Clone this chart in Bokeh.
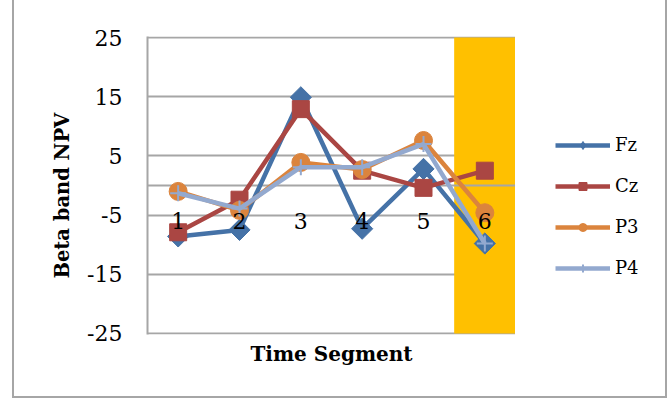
import numpy as np
from bokeh.plotting import figure
from bokeh.layouts import row
from bokeh.models import (FixedTicker, Legend, LegendItem, InlineStyleSheet,
                          ColumnDataSource, CustomJSTickFormatter)
from bokeh.core.properties import value
from bokeh.embed import file_html
from bokeh.resources import INLINE

# Beta band NPV per time segment for four electrodes
segments = [1, 2, 3, 4, 5, 6]
segment_labels = ["1", "2", "3", "4", "5", "6"]
fz = [-8.6, -7.5, 14.9, -7.3, 2.8, -9.8]
cz = [-7.9, -2.4, 12.9, 2.5, -0.4, 2.5]
p3 = [-1.0, -4.2, 3.9, 2.7, 7.6, -4.6]
p4 = [-1.3, -3.9, 3.1, 3.1, 7.0, -9.8]
y_ticks = [-25, -15, -5, 5, 15, 25]
highlight_segment = 6

FONT = "DejaVu Serif"
GRID = "#a6a6a6"

# a little headroom so the outermost grid lines are not clipped
pad = 0.17
p = figure(width=515, height=399, output_backend="svg", toolbar_location=None,
           title=None,
           x_range=(0.5, 6.5), y_range=(y_ticks[0] - pad, y_ticks[-1] + pad),
           min_border_left=147, min_border_right=0,
           min_border_top=36, min_border_bottom=65)
p.outline_line_color = None
p.background_fill_color = "white"
p.border_fill_color = "white"

# y axis
p.yaxis.ticker = FixedTicker(ticks=y_ticks)
p.yaxis.formatter = CustomJSTickFormatter(code="return String(tick);")
p.yaxis.major_tick_out = 0
p.yaxis.major_tick_in = 0
p.yaxis.minor_tick_line_color = None
p.yaxis.axis_line_color = GRID
p.yaxis.axis_line_width = 2
p.yaxis.major_label_standoff = 25
p.yaxis.major_label_text_font = FONT
p.yaxis.major_label_text_font_size = "22px"
p.yaxis.major_label_text_color = "black"
# trailing no-break spaces nudge the rotated title a bit lower
p.yaxis.axis_label = "Beta band NPV\u00a0\u00a0\u00a0"
p.yaxis.axis_label_text_font = FONT
p.yaxis.axis_label_text_font_size = "19.5px"
p.yaxis.axis_label_text_font_style = "bold"
p.yaxis.axis_label_text_color = "black"
p.yaxis.axis_label_standoff = 10

# x axis: only the title sits below; segment numbers go next to the zero line
p.xaxis.ticker = FixedTicker(ticks=[])
p.xaxis.axis_line_color = None
p.xaxis.major_tick_line_color = None
p.xaxis.minor_tick_line_color = None
p.xaxis.axis_label = "Time Segment"
p.xaxis.axis_label_text_font = FONT
p.xaxis.axis_label_text_font_size = "20px"
p.xaxis.axis_label_text_font_style = "bold"
p.xaxis.axis_label_text_color = "black"
p.xaxis.axis_label_standoff = 7

p.xgrid.grid_line_color = None
p.ygrid.ticker = FixedTicker(ticks=y_ticks)
p.ygrid.grid_line_color = GRID
p.ygrid.grid_line_width = 2
p.ygrid.level = "image"

# highlighted segment column
p.quad(left=[highlight_segment - 0.5], right=[highlight_segment + 0.5],
       bottom=[y_ticks[0]], top=[y_ticks[-1]],
       fill_color="#ffc000", line_color=None, level="underlay")
# horizontal category axis crossing at zero
p.hspan(y=[0], line_color=GRID, line_width=2, level="underlay")

series = [
    ("Fz", fz, "#4572a7", dict(marker="square", size=15, angle=np.pi / 4), "diamond"),
    ("Cz", cz, "#aa4643", dict(marker="square", size=17), "square"),
    ("P3", p3, "#db843d", dict(marker="circle", size=18), "circle"),
    ("P4", p4, "#93a9cf", dict(marker="cross", size=16, line_width=2), "cross"),
]

# legend lives in its own narrow panel to the right of the plot area
p_leg = figure(width=155, height=399, output_backend="svg", toolbar_location=None,
               title=None, x_axis_type=None, y_axis_type=None,
               x_range=(-2, -1), y_range=(-2, -1), min_border=0)
p_leg.outline_line_color = None
p_leg.grid.visible = False
p_leg.background_fill_color = "white"
p_leg.border_fill_color = "white"

items = []
for name, vals, color, mk, leg_marker in series:
    src = ColumnDataSource(dict(x=segments, y=vals))
    kw = dict(mk)
    lw = kw.pop("line_width", 1)
    p.line("x", "y", source=src, line_color=color, line_width=4.5)
    p.scatter("x", "y", source=src, fill_color=color, line_color=color,
              line_width=lw, **kw)
    # key entries (the data sit outside this panel's ranges)
    ln = p_leg.line("x", "y", source=src, line_color=color, line_width=4.5)
    sc = p_leg.scatter("x", "y", source=src, marker=leg_marker, size=kw["size"],
                       fill_color=color, line_color=color, line_width=lw)
    items.append(LegendItem(label=name, renderers=[ln, sc]))

# segment numbers drawn over the series
p.text(x=segments, y=[0] * len(segments), text=segment_labels,
       y_offset=35, text_align="center", text_baseline="middle",
       text_font=value(FONT), text_font_size="22px", text_color="black")

legend = Legend(items=items, location=(40, 56))
legend.glyph_width = 55
legend.glyph_height = 20
legend.spacing = 20
legend.label_standoff = 5
legend.padding = 0
legend.margin = 0
legend.border_line_color = None
legend.background_fill_alpha = 0
legend.label_text_font = FONT
legend.label_text_font_size = "18px"
legend.label_text_color = "black"
p_leg.add_layout(legend)

layout = row(p, p_leg, spacing=0)
# outer chart frame
layout.stylesheets.append(InlineStyleSheet(css="""
:host { position: relative; }
:host::after {
  content: ''; position: absolute; left: 12px; top: -20px;
  width: 655px; height: 418px; border: 2px solid #a6a6a6;
  box-sizing: border-box; pointer-events: none;
}
"""))

open("out.html", "w").write(file_html(layout, INLINE))
